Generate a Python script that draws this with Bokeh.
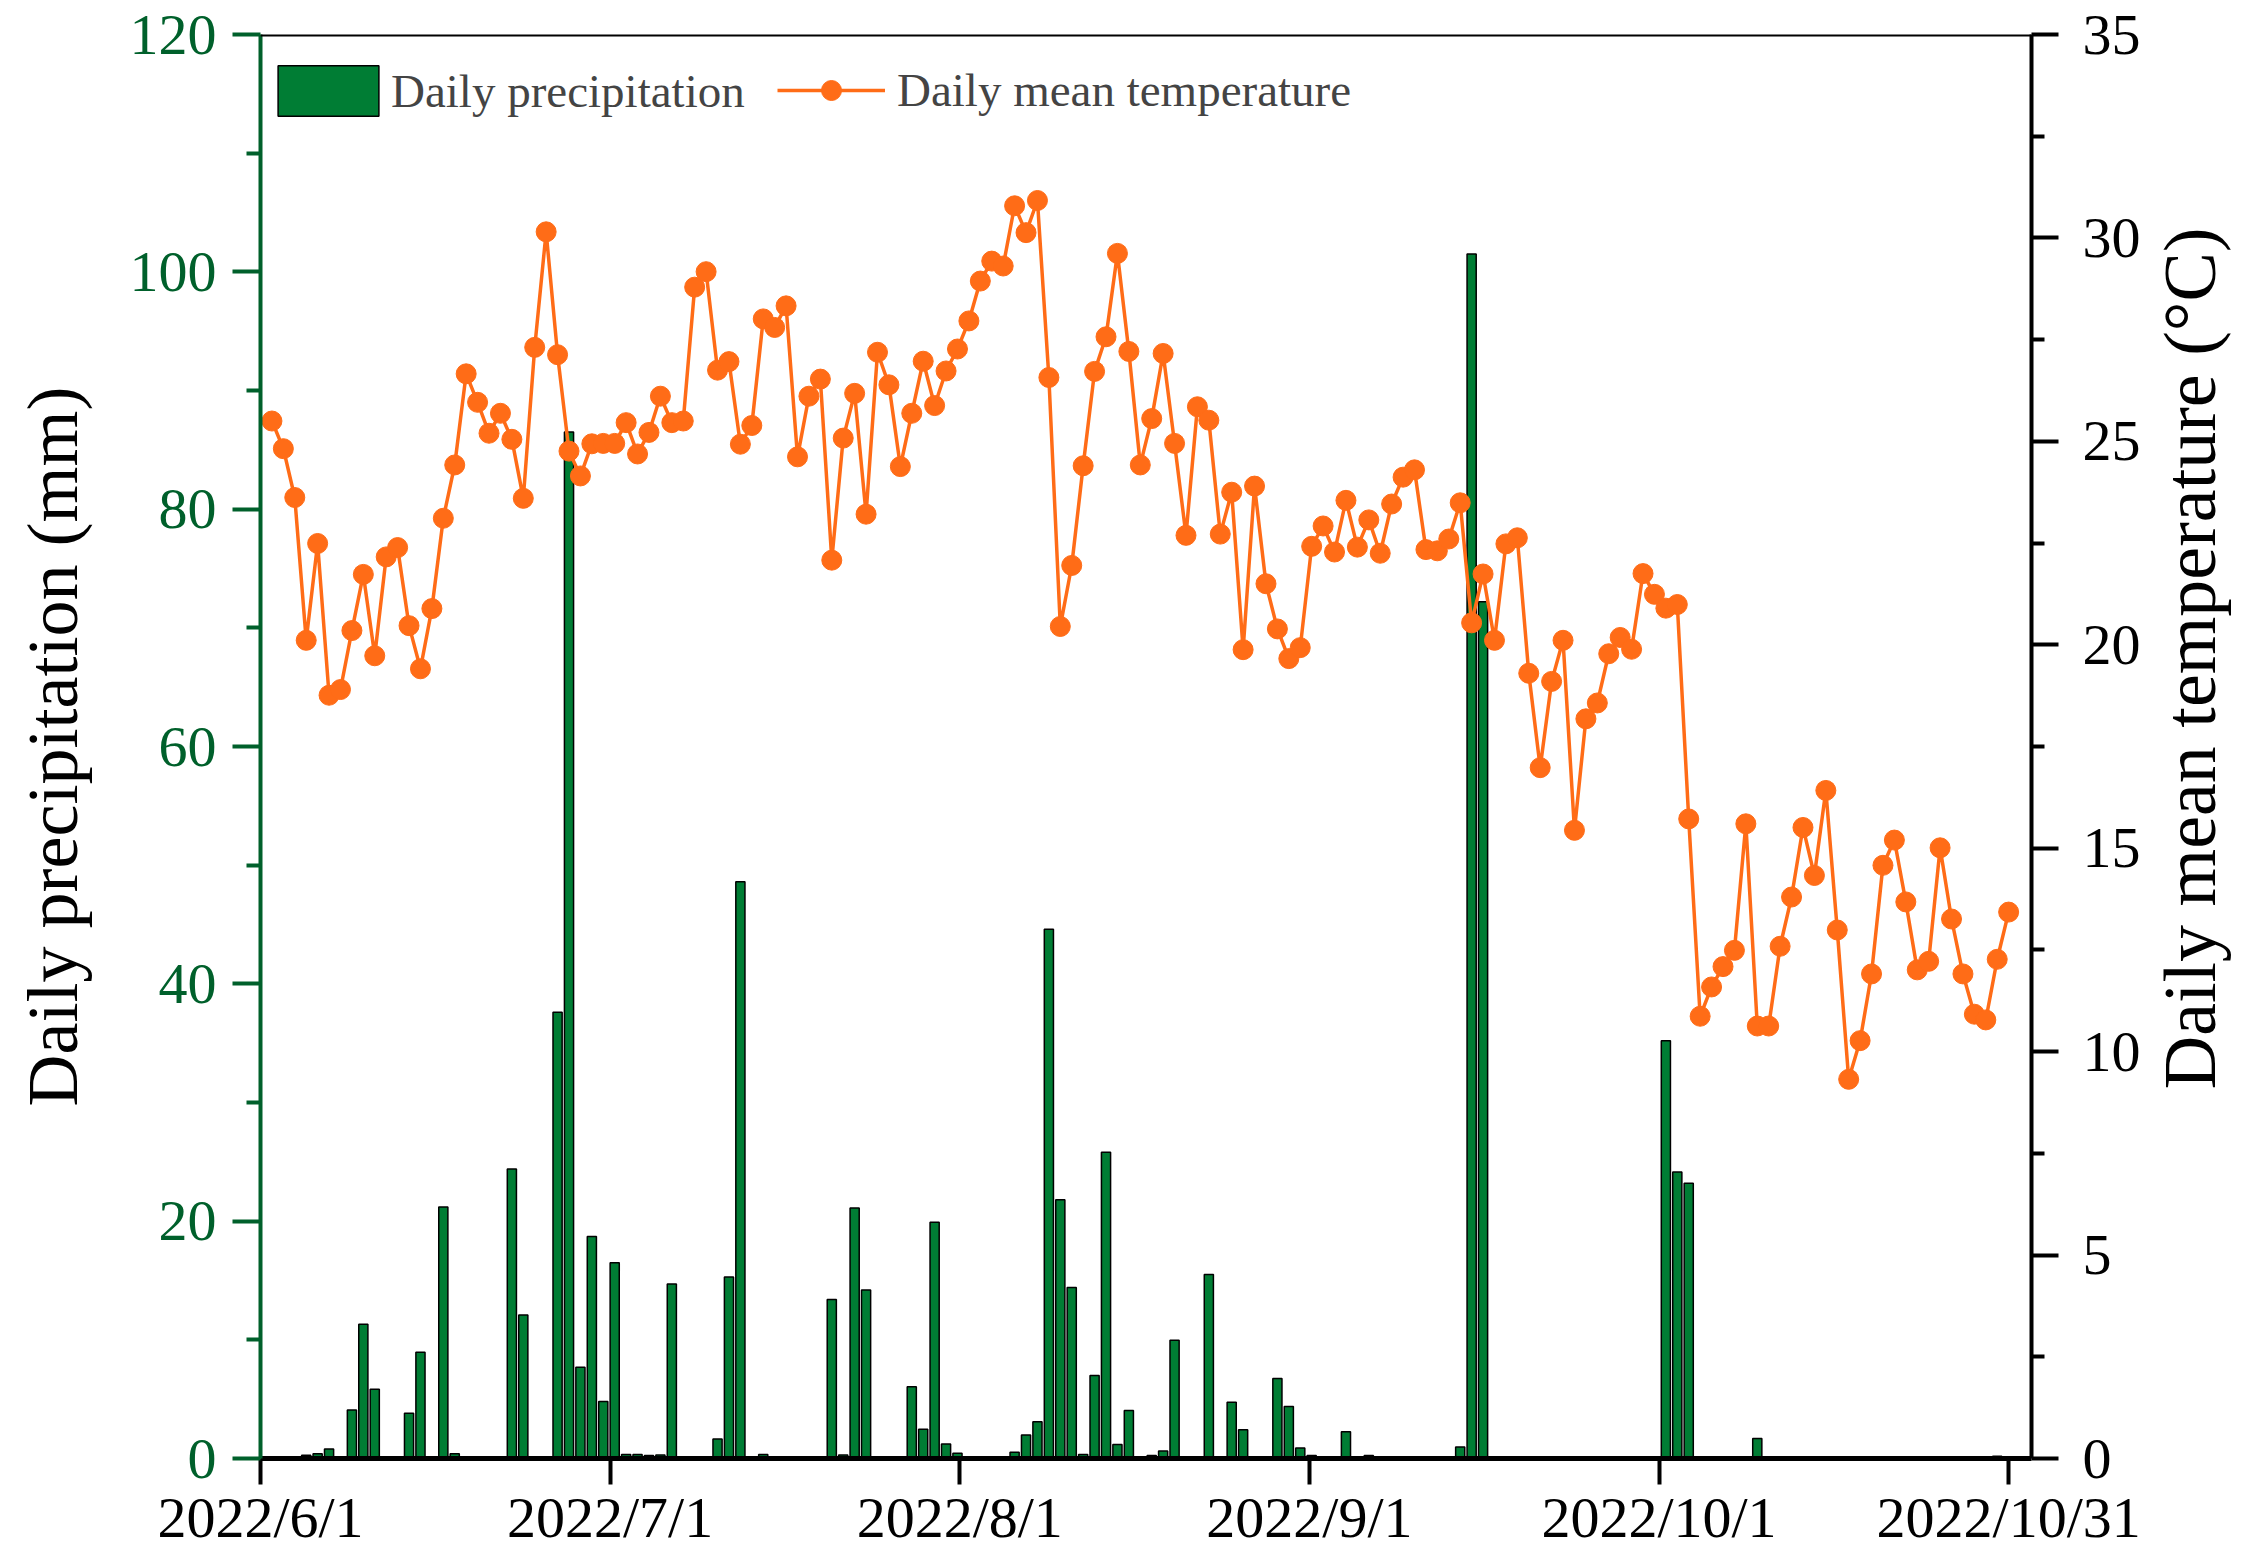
import math
from bokeh.plotting import figure
from bokeh.layouts import row
from bokeh.models import (Range1d, LinearAxis, FixedTicker, Legend, LegendItem,
                          Span, ColumnDataSource, Label)
from bokeh.embed import file_html
from bokeh.resources import INLINE

# ---------------- data (2022/6/1 .. 2022/10/31, one value per day) ----------------
day = list(range(1, 154))

precip_mm = [
    0, 0, 0, 0.27, 0.40, 0.80, 0, 4.09, 11.31, 5.83,          # 6/1-6/10
    0, 0, 3.82, 8.96, 0.1, 21.2, 0.4, 0, 0, 0,                 # 6/11-6/20
    0, 24.4, 12.1, 0, 0, 37.6, 86.5, 7.7, 18.7, 4.8,           # 6/21-6/30
    16.5, 0.33, 0.33, 0.25, 0.3, 14.7, 0, 0, 0, 1.64,          # 7/1-7/10
    15.3, 48.6, 0, 0.33, 0, 0, 0, 0.1, 0, 13.4,                # 7/11-7/20
    0.3, 21.1, 14.2, 0, 0, 0.1, 6.05, 2.47, 19.9, 1.22,        # 7/21-7/30
    0.44, 0, 0.1, 0, 0, 0.52, 1.97, 3.09, 44.6, 21.8,          # 7/31-8/9
    14.4, 0.33, 7.0, 25.8, 1.19, 4.04, 0, 0.25, 0.63, 9.96,    # 8/10-8/19
    0, 0, 15.5, 0, 4.74, 2.42, 0, 0, 6.75, 4.38,               # 8/20-8/29
    0.88, 0.25, 0, 0, 2.25, 0.05, 0.25, 0, 0, 0,               # 8/30-9/8
    0, 0, 0, 0, 0.96, 101.5, 72.2, 0, 0, 0,                    # 9/9-9/18
    0, 0, 0, 0, 0, 0, 0, 0, 0, 0,                              # 9/19-9/28
    0, 0, 35.2, 24.15, 23.2, 0, 0, 0, 0, 0.15,                 # 9/29-10/8
    1.69, 0, 0, 0, 0, 0, 0.05, 0, 0, 0,                        # 10/9-10/18
    0, 0, 0, 0, 0, 0, 0, 0, 0, 0,                              # 10/19-10/28
    0, 0.2, 0,                                                 # 10/29-10/31
]

temp_c = [
    25.50, 24.82, 23.62, 20.11, 22.49, 18.76, 18.90, 20.35, 21.73, 19.73,
    22.16, 22.39, 20.47, 19.41, 20.89, 23.11, 24.42, 26.66, 25.96, 25.20,
    25.69, 25.05, 23.60, 27.31, 30.15, 27.13, 24.76, 24.15, 24.94, 24.95,
    24.95, 25.46, 24.69, 25.22, 26.11, 25.46, 25.50, 28.79, 29.17, 26.75,
    26.96, 24.93, 25.39, 28.01, 27.80, 28.33, 24.62, 26.11, 26.53, 22.08,
    25.08, 26.18, 23.21, 27.19, 26.39, 24.38, 25.69, 26.97, 25.88, 26.73,
    27.27, 27.96, 28.94, 29.43, 29.31, 30.79, 30.13, 30.92, 26.57, 20.45,
    21.95, 24.40, 26.72, 27.57, 29.62, 27.21, 24.42, 25.56, 27.16, 24.95,
    22.69, 25.85, 25.52, 22.72, 23.75, 19.88, 23.90, 21.50, 20.39, 19.66,
    19.93, 22.42, 22.92, 22.28, 23.55, 22.40, 23.07, 22.25, 23.46, 24.12,
    24.30, 22.34, 22.31, 22.60, 23.49, 20.54, 21.74, 20.11, 22.48, 22.63,
    19.30, 16.98, 19.10, 20.11, 15.44, 18.18, 18.57, 19.78, 20.18, 19.89,
    21.75, 21.24, 20.90, 20.99, 15.72, 10.87, 11.59, 12.09, 12.49, 15.60,
    10.63, 10.63, 12.59, 13.80, 15.51, 14.33, 16.42, 12.99, 9.32, 10.27,
    11.91, 14.58, 15.20, 13.68, 12.01, 12.22, 15.01, 13.26, 11.91, 10.92,
    10.78, 12.27, 13.43,
]

x_tick_pos = [0, 30.6, 61.2, 91.8, 122.4, 153.0]
x_tick_labels = ["2022/6/1", "2022/7/1", "2022/8/1", "2022/9/1", "2022/10/1", "2022/10/31"]
precip_ticks = [0, 20, 40, 60, 80, 100, 120]
precip_minor = [10, 30, 50, 70, 90, 110]
temp_ticks = [0, 5, 10, 15, 20, 25, 30, 35]
temp_minor = [2.5, 7.5, 12.5, 17.5, 22.5, 27.5, 32.5]

# ---------------- styles ----------------
FONT = "Liberation Serif"
GREEN = "#007D34"
DARK_GREEN = "#00602B"
ORANGE = "#FF6C17"
TICK_FS = "58px"
TITLE_FS = "72px"
RTITLE_FS = "74px"
LEG_FS = "47px"

TOTAL_W, H = 2236, 1552
W = 2150                     # main plot width; the rest holds the right-hand title
BL, BR, BT, BB = 260, W - 2031, 34, 92
FRAME_W = W - BL - BR
FRAME_H = H - BT - BB
X_MAX = 155

src = ColumnDataSource(dict(day=day, precip=precip_mm, temp=temp_c))

p = figure(width=W, height=H, x_range=Range1d(0, X_MAX), y_range=Range1d(0, 120),
           output_backend="svg", toolbar_location=None,
           min_border_left=BL, min_border_right=BR, min_border_top=BT, min_border_bottom=BB,
           outline_line_color=None)
p.extra_y_ranges = {"temp": Range1d(0, 35)}
p.xgrid.visible = False
p.ygrid.visible = False

bars = p.vbar(x="day", top="precip", width=0.8, source=src,
              fill_color=GREEN, line_color="black", line_width=1.5)
line = p.line(x="day", y="temp", source=src, y_range_name="temp",
              line_color=ORANGE, line_width=3.5)
pts = p.scatter(x="day", y="temp", source=src, y_range_name="temp", marker="circle",
                size=20, fill_color=ORANGE, line_color=ORANGE)

# top frame line
p.add_layout(Span(location=120, dimension="width", line_color="black", line_width=4))

# x axis
xa = p.xaxis[0]
xa.ticker = FixedTicker(ticks=x_tick_pos)
xa.major_label_overrides = {pos: lab for pos, lab in zip(x_tick_pos, x_tick_labels)}
xa.axis_line_color = "black"
xa.axis_line_width = 5
xa.major_tick_line_color = "black"
xa.major_tick_line_width = 4
xa.major_tick_out = 26
xa.major_tick_in = 0
xa.minor_tick_out = 0
xa.minor_tick_in = 0
xa.major_label_text_font = FONT
xa.major_label_text_font_size = TICK_FS
xa.major_label_text_color = "black"
xa.major_label_standoff = 0

# left axis (precipitation)
ya = p.yaxis[0]
ya.ticker = FixedTicker(ticks=precip_ticks, minor_ticks=precip_minor)
ya.axis_line_color = DARK_GREEN
ya.axis_line_width = 4
ya.major_tick_line_color = DARK_GREEN
ya.minor_tick_line_color = DARK_GREEN
ya.major_tick_line_width = 4
ya.minor_tick_line_width = 4
ya.major_tick_out = 28
ya.major_tick_in = 0
ya.minor_tick_out = 14
ya.minor_tick_in = 0
ya.major_label_text_font = FONT
ya.major_label_text_font_size = TICK_FS
ya.major_label_text_color = DARK_GREEN
ya.major_label_standoff = 16
ya.axis_label = "Daily precipitation (mm)"
ya.axis_label_text_font = FONT
ya.axis_label_text_font_size = TITLE_FS
ya.axis_label_text_font_style = "normal"
ya.axis_label_text_color = "black"
ya.axis_label_standoff = 34

# right axis (temperature)
ra = LinearAxis(y_range_name="temp",
                ticker=FixedTicker(ticks=temp_ticks, minor_ticks=temp_minor))
ra.axis_line_color = "black"
ra.axis_line_width = 4
ra.major_tick_line_color = "black"
ra.minor_tick_line_color = "black"
ra.major_tick_line_width = 4
ra.minor_tick_line_width = 4
ra.major_tick_out = 27
ra.major_tick_in = 0
ra.minor_tick_out = 13
ra.minor_tick_in = 0
ra.major_label_text_font = FONT
ra.major_label_text_font_size = TICK_FS
ra.major_label_text_color = "black"
ra.major_label_standoff = 24
p.add_layout(ra, "right")

# legends
leg1 = Legend(items=[LegendItem(label="Daily precipitation", renderers=[bars])],
              location=(5, FRAME_H - 27 - 63), orientation="horizontal",
              glyph_width=126, glyph_height=63, label_standoff=0,
              label_text_font=FONT, label_text_font_size=LEG_FS,
              border_line_color=None, background_fill_alpha=0, padding=0, margin=0)
leg2 = Legend(items=[LegendItem(label="Daily mean temperature", renderers=[line, pts])],
              location=(517, FRAME_H - 35 - 50), orientation="horizontal",
              glyph_width=108, glyph_height=50, label_standoff=12,
              label_text_font=FONT, label_text_font_size=LEG_FS,
              border_line_color=None, background_fill_alpha=0, padding=0, margin=0)
p.add_layout(leg1, "center")
p.add_layout(leg2, "center")

# narrow companion figure carrying the right-axis title (reads bottom-to-top)
TW = TOTAL_W - W
pt = figure(width=TW, height=H, x_range=Range1d(0, TW), y_range=Range1d(0, H),
            output_backend="svg", toolbar_location=None,
            min_border_left=0, min_border_right=0, min_border_top=0, min_border_bottom=0,
            outline_line_color=None, x_axis_location=None, y_axis_location=None)
pt.xgrid.visible = False
pt.ygrid.visible = False
pt.add_layout(Label(x=2189 - W, y=H - 680, x_units="data", y_units="data",
                    text="Daily mean temperature (°C)", angle=math.pi / 2,
                    text_align="center", text_baseline="middle",
                    text_font=FONT, text_font_size=RTITLE_FS, text_color="black"))

layout = row(p, pt, spacing=0)
open("out.html", "w").write(file_html(layout, INLINE))
